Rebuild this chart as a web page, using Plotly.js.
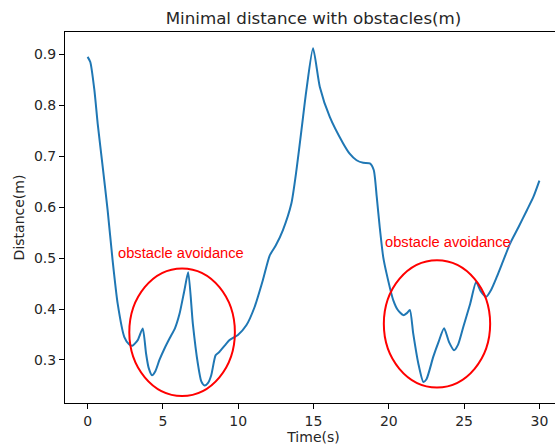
<!DOCTYPE html>
<html>
<head>
<meta charset="utf-8">
<script src="https://cdn.plot.ly/plotly-3.0.1.min.js"></script>
<style>
html, body { margin: 0; padding: 0; overflow: hidden; background: #fff; }
#chart { width: 563px; height: 448px; }
</style>
</head>
<body>
<div id="chart"></div>
<script>
// Data
const timeS = [0.0, 0.18, 0.45, 0.67, 1.0, 1.33, 1.66, 2.0, 2.44, 2.75, 2.97, 3.33, 3.66, 3.88, 4.05, 4.28, 4.5, 4.77, 5.1, 5.44, 5.8, 6.1, 6.43, 6.68, 6.99, 7.32, 7.55, 7.77, 8.0, 8.21, 8.5, 8.76, 9.1, 9.43, 9.98, 10.54, 11.09, 11.64, 12.09, 12.5, 12.97, 13.53, 13.87, 14.2, 14.53, 14.97, 15.42, 16.08, 16.97, 17.4, 17.86, 18.3, 18.74, 19.0, 19.2, 19.4, 19.63, 19.85, 20.3, 20.6, 20.96, 21.2, 21.4, 21.62, 21.96, 22.29, 22.5, 22.95, 23.3, 23.67, 24.0, 24.33, 24.6, 24.95, 25.4, 25.8, 26.1, 26.46, 26.8, 27.17, 27.6, 28.06, 28.6, 29.17, 29.6, 30.0];
const distanceM = [0.895, 0.885, 0.83, 0.764, 0.68, 0.594, 0.496, 0.41, 0.345, 0.331, 0.328, 0.339, 0.362, 0.313, 0.285, 0.27, 0.278, 0.30, 0.322, 0.342, 0.362, 0.39, 0.437, 0.472, 0.371, 0.293, 0.258, 0.25, 0.255, 0.27, 0.309, 0.316, 0.328, 0.339, 0.349, 0.368, 0.404, 0.457, 0.505, 0.525, 0.555, 0.607, 0.673, 0.751, 0.83, 0.912, 0.836, 0.777, 0.725, 0.705, 0.692, 0.687, 0.686, 0.673, 0.62, 0.56, 0.502, 0.47, 0.417, 0.398, 0.388, 0.392, 0.398, 0.352, 0.293, 0.257, 0.262, 0.306, 0.335, 0.362, 0.335, 0.319, 0.33, 0.365, 0.41, 0.453, 0.435, 0.424, 0.438, 0.463, 0.495, 0.529, 0.56, 0.594, 0.62, 0.652];
const xTicks = [0, 5, 10, 15, 20, 25, 30];
const yTicks = [0.3, 0.4, 0.5, 0.6, 0.7, 0.8, 0.9];
const yTickLabels = ['0.3', '0.4', '0.5', '0.6', '0.7', '0.8', '0.9'];
const noteText = 'obstacle avoidance';
const noteX = [6.21, 23.9];
const noteY = [0.509, 0.532];
// ellipse bounds (x0, x1, y0, y1) around the avoidance regions
const ellipseX0 = [2.77, 19.67];
const ellipseX1 = [9.78, 26.73];
const ellipseY0 = [0.2293, 0.2458];
const ellipseY1 = [0.4796, 0.4959];

const trace = {
  x: timeS,
  y: distanceM,
  type: 'scatter',
  mode: 'lines',
  line: { color: '#1f77b4', width: 2, shape: 'spline', smoothing: 0.6 },
  hoverinfo: 'skip',
  showlegend: false
};

const shapes = ellipseX0.map((x0, i) => ({
  type: 'circle', xref: 'x', yref: 'y',
  x0: x0, x1: ellipseX1[i], y0: ellipseY0[i], y1: ellipseY1[i],
  line: { color: '#ff0000', width: 2 },
  fillcolor: 'rgba(0,0,0,0)'
}));

const annotations = noteX.map((x, i) => ({
  x: x, y: noteY[i], xref: 'x', yref: 'y',
  text: noteText, showarrow: false,
  xanchor: 'center', yanchor: 'middle',
  font: { family: 'Liberation Sans, Arial, sans-serif', size: 14.7, color: '#ff0000' }
}));

const tickFont = { family: 'DejaVu Sans, sans-serif', size: 14, color: '#262626' };

const layout = {
  width: 563,
  height: 448,
  margin: { l: 65, r: 1, t: 32, b: 45 },
  paper_bgcolor: '#ffffff',
  plot_bgcolor: '#ffffff',
  title: {
    text: 'Minimal distance with obstacles(m)',
    x: 0.5, xref: 'paper', xanchor: 'center',
    y: 0.959, yref: 'container', yanchor: 'middle',
    font: { family: 'DejaVu Sans, sans-serif', size: 16.7, color: '#262626' }
  },
  xaxis: {
    range: [-1.5, 31.5],
    tickvals: xTicks,
    ticktext: xTicks.map(String),
    ticks: 'outside', ticklen: 5, tickwidth: 1, tickcolor: '#000',
    showline: true, linecolor: '#000', linewidth: 1, mirror: true,
    showgrid: false, zeroline: false,
    tickfont: tickFont,
    title: { text: 'Time(s)', font: tickFont, standoff: 4 },
    automargin: false
  },
  yaxis: {
    range: [0.2155, 0.9438],
    tickvals: yTicks,
    ticktext: yTickLabels,
    ticks: 'outside', ticklen: 5, tickwidth: 1, tickcolor: '#000',
    showline: true, linecolor: '#000', linewidth: 1, mirror: true,
    showgrid: false, zeroline: false,
    tickfont: tickFont,
    title: { text: 'Distance(m)', font: tickFont, standoff: 6 },
    automargin: false
  },
  shapes: shapes,
  annotations: annotations
};

Plotly.newPlot('chart', [trace], layout, { staticPlot: true, displayModeBar: false });
</script>
</body>
</html>
